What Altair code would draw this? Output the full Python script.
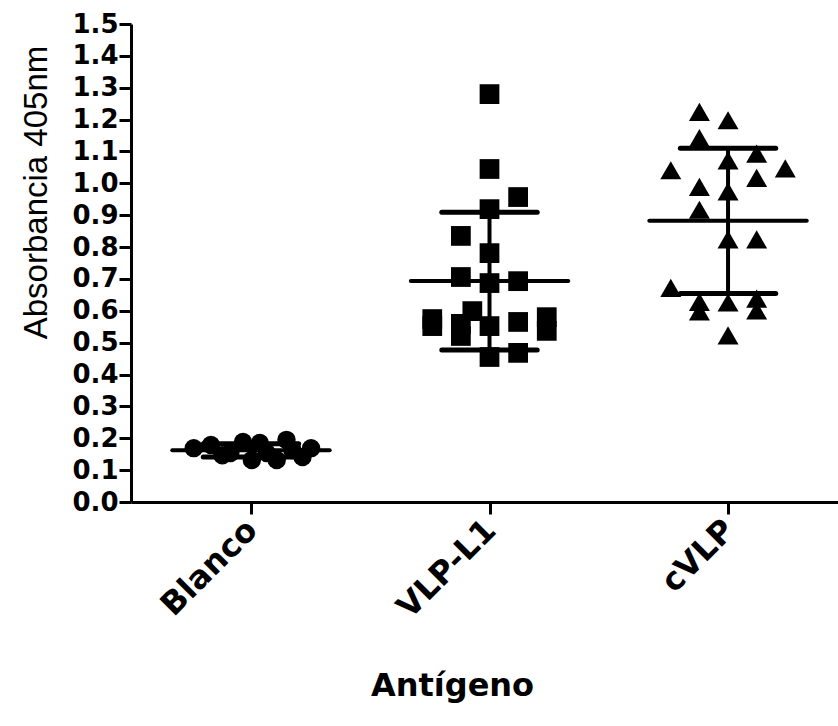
import altair as alt
import pandas as pd
import numpy as np

# ---- data ----
groups = ["Blanco", "VLP-L1", "cVLP"]
shapes = ["circle", "square", "triangle-up"]
sizes = [340, 440, 480]

blanco_vals = [0.169, 0.179, 0.147, 0.154, 0.188, 0.132, 0.185, 0.154, 0.132, 0.195, 0.163, 0.141, 0.169]
blanco_cols = [-2.0, -1.4, -1.0, -0.72, -0.28, 0.03, 0.31, 0.55, 0.9, 1.24, 1.45, 1.8, 2.1]

vlp_vals = [1.28, 1.045, 0.957, 0.919, 0.835, 0.781, 0.706, 0.687, 0.693,
            0.574, 0.552, 0.599, 0.559, 0.521, 0.552, 0.565, 0.580, 0.537, 0.455, 0.468]
vlp_cols = [0, 0, 1, 0, -1, 0, -1, 0, 1,
            -2, -2, -0.6, -1, -1, 0, 1, 2, 2, 0, 1]

cvlp_vals = [1.224, 1.198, 1.142, 1.072, 1.093, 1.041, 1.047, 1.017, 0.989, 0.975,
             0.917, 0.824, 0.824, 0.672, 0.628, 0.598, 0.626, 0.638, 0.601, 0.523]
cvlp_cols = [-1, 0, -1, 0, 1, -2, 2, 1, -1, 0,
             -1, 0, 1, -2, -1, -1, 0, 1, 1, 0]

y_ticks = [round(i * 0.1, 1) for i in range(16)]

COL_STEP = 0.12      # horizontal spacing of scatter columns (x units)
MEAN_HALF = 0.33     # half width of mean line
CAP_HALF = 0.2       # half width of SD caps

# ---- build tables ----
rows = []
for gi, (vals, cols) in enumerate([(blanco_vals, blanco_cols), (vlp_vals, vlp_cols), (cvlp_vals, cvlp_cols)]):
    for v, c in zip(vals, cols):
        rows.append({"group": groups[gi], "x": gi + c * COL_STEP, "value": v})
pts = pd.DataFrame(rows)

stats_rows = []
for gi, vals in enumerate([blanco_vals, vlp_vals, cvlp_vals]):
    m = float(np.mean(vals))
    s = float(np.std(vals, ddof=1))
    stats_rows.append({"group": groups[gi], "xc": gi, "mean": m, "lo": m - s, "hi": m + s,
                       "mx1": gi - MEAN_HALF, "mx2": gi + MEAN_HALF,
                       "cx1": gi - CAP_HALF, "cx2": gi + CAP_HALF})
stats = pd.DataFrame(stats_rows)

label_expr = "[" + ",".join("'" + g + "'" for g in groups) + "][datum.value]"

xscale = alt.Scale(domain=[-0.503, 2.461], nice=False, zero=False)
yscale = alt.Scale(domain=[0, 1.5], nice=False, zero=False)

xaxis = alt.Axis(
    values=[0, 1, 2], labelExpr=label_expr, labelAngle=-45, labelAlign="right",
    labelBaseline="top", labelFont="DejaVu Sans", labelFontWeight="bold",
    labelFontSize=32, labelPadding=0, labelOffset=-10, labelOverlap=False, labelBound=False,
    labelFlush=False,
    title="Antígeno", titleFont="DejaVu Sans", titleFontWeight="bold", titleFontSize=32,
    titleX=321, titleY=193, titleAlign="center", titleBaseline="alphabetic",
    grid=False, tickSize=12,
)
yaxis = alt.Axis(
    values=y_ticks, format=".1f", labelFont="DejaVu Sans", labelFontWeight="bold",
    labelFontSize=26, labelPadding=1, labelOverlap=False, labelBound=False, labelFlush=False,
    title="Absorbancia 405nm", titleFont="Liberation Sans", titleFontWeight="normal",
    titleFontSize=33, titleX=-85, titleY=168, titleAlign="center", titleBaseline="alphabetic",
    titleAngle=270, grid=False, tickSize=12,
)

base_pts = alt.Chart(pts).mark_point(filled=True, opacity=1, color="black", strokeWidth=0).encode(
    x=alt.X("x:Q", scale=xscale, axis=xaxis),
    y=alt.Y("value:Q", scale=yscale, axis=yaxis),
    shape=alt.Shape("group:N", scale=alt.Scale(domain=groups, range=shapes), legend=None),
    size=alt.Size("group:N", scale=alt.Scale(domain=groups, range=sizes), legend=None),
)

mean_line = alt.Chart(stats).mark_rule(color="black", strokeWidth=4, strokeCap="round").encode(
    x=alt.X("mx1:Q", scale=xscale, axis=xaxis), x2="mx2:Q",
    y=alt.Y("mean:Q", scale=yscale, axis=yaxis))
cap_hi = alt.Chart(stats).mark_rule(color="black", strokeWidth=5, strokeCap="round").encode(
    x=alt.X("cx1:Q", scale=xscale, axis=xaxis), x2="cx2:Q",
    y=alt.Y("hi:Q", scale=yscale, axis=yaxis))
cap_lo = alt.Chart(stats).mark_rule(color="black", strokeWidth=5, strokeCap="round").encode(
    x=alt.X("cx1:Q", scale=xscale, axis=xaxis), x2="cx2:Q",
    y=alt.Y("lo:Q", scale=yscale, axis=yaxis))
vbar = alt.Chart(stats).mark_rule(color="black", strokeWidth=4).encode(
    x=alt.X("xc:Q", scale=xscale, axis=xaxis),
    y=alt.Y("lo:Q", scale=yscale, axis=yaxis), y2="hi:Q")

chart = alt.layer(base_pts, mean_line, cap_hi, cap_lo, vbar).properties(
    width=707, height=478,
    autosize=alt.AutoSizeParams(type="none"),
    padding={"left": 131, "top": 24, "right": 0, "bottom": 224},
    background="white",
).configure_view(stroke=None).configure_axis(
    domainColor="black", domainWidth=3, tickColor="black", tickWidth=3,
    labelColor="black", titleColor="black",
)

chart.save("out.html", embed_options={"renderer": "svg", "actions": False})
